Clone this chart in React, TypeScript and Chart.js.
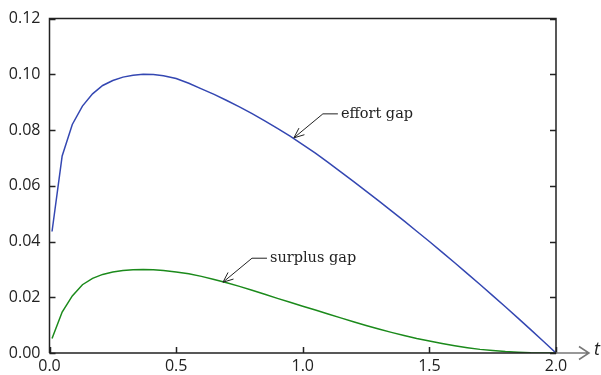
import React, { useEffect, useRef } from "react";
import { Chart, registerables } from "chart.js";

Chart.register(...registerables);

const tValues = [0.01, 0.05, 0.09, 0.13, 0.17, 0.21, 0.25, 0.29, 0.33, 0.37, 0.41, 0.45, 0.5, 0.55, 0.6, 0.65, 0.7, 0.75, 0.8, 0.85, 0.9, 0.95, 1.0, 1.05, 1.1, 1.15, 1.2, 1.25, 1.3, 1.35, 1.4, 1.45, 1.5, 1.55, 1.6, 1.65, 1.7, 1.75, 1.8, 1.85, 1.9, 1.95, 2.0];
const effortGap = [0.0436, 0.0707, 0.082, 0.0886, 0.093, 0.096, 0.0978, 0.099, 0.0997, 0.1, 0.0999, 0.0995, 0.0985, 0.0968, 0.0948, 0.0928, 0.0906, 0.0883, 0.0859, 0.0833, 0.0806, 0.0778, 0.0748, 0.0717, 0.0684, 0.065, 0.0616, 0.0581, 0.0546, 0.051, 0.0474, 0.0437, 0.04, 0.0362, 0.0324, 0.0285, 0.0246, 0.0206, 0.0166, 0.0125, 0.0084, 0.0042, 0.0];
const surplusGap = [0.0052, 0.0147, 0.0205, 0.0245, 0.0268, 0.0282, 0.0291, 0.0296, 0.0299, 0.03, 0.0299, 0.0296, 0.0291, 0.0284, 0.0275, 0.0264, 0.0252, 0.0239, 0.0225, 0.0211, 0.0196, 0.0182, 0.0168, 0.0154, 0.014, 0.0126, 0.0112, 0.0099, 0.0086, 0.0074, 0.0063, 0.0052, 0.0043, 0.0034, 0.0026, 0.0019, 0.0013, 0.0009, 0.0005, 0.0003, 0.0001, 0.00003, 0.0];
const xTicks = [0, 0.5, 1.0, 1.5, 2.0];
const yTicks = [0, 0.02, 0.04, 0.06, 0.08, 0.1, 0.12];
const annotations = [
  { text: "effort gap", t: 0.965, v: 0.0772, dx: 46, dy: -24 },
  { text: "surplus gap", t: 0.685, v: 0.0254, dx: 46, dy: -24 },
];

const overlay = {
  id: "overlay",
  afterDraw(chart: any) {
    const ctx = chart.ctx;
    const { left, right, top, bottom } = chart.chartArea;
    const xs = chart.scales.x;
    const ys = chart.scales.y;
    ctx.save();
    ctx.strokeStyle = "#222";
    ctx.lineWidth = 1.5;
    ctx.beginPath();
    yTicks.forEach((v) => {
      const y = Math.round(ys.getPixelForValue(v)) + 0.5;
      ctx.moveTo(left, y);
      ctx.lineTo(left + 6, y);
      ctx.moveTo(right, y);
      ctx.lineTo(right - 6, y);
    });
    xTicks.forEach((v) => {
      const x = Math.round(xs.getPixelForValue(v)) + 0.5;
      ctx.moveTo(x, bottom);
      ctx.lineTo(x, bottom - 6);
    });
    ctx.stroke();
    ctx.beginPath();
    ctx.moveTo(left, bottom);
    ctx.lineTo(left, top);
    ctx.lineTo(right, top);
    ctx.lineTo(right, bottom);
    ctx.lineTo(left, bottom);
    ctx.stroke();
    ctx.strokeStyle = "#777";
    ctx.beginPath();
    ctx.moveTo(right, bottom);
    ctx.lineTo(right + 33, bottom);
    ctx.moveTo(right + 23, bottom - 6.5);
    ctx.lineTo(right + 33, bottom);
    ctx.lineTo(right + 23, bottom + 6.5);
    ctx.stroke();
    ctx.fillStyle = "#222";
    ctx.font = "italic 18px 'Open Sans'";
    ctx.textAlign = "left";
    ctx.textBaseline = "middle";
    ctx.fillText("t", right + 38, bottom - 3);
    ctx.strokeStyle = "#222";
    ctx.lineWidth = 1;
    ctx.font = "14.5px 'DejaVu Serif'";
    annotations.forEach((a) => {
      const px = xs.getPixelForValue(a.t);
      const py = ys.getPixelForValue(a.v);
      const hx = px + a.dx - 2;
      const hy = py + a.dy;
      const kx = hx - 15;
      ctx.beginPath();
      ctx.moveTo(hx, hy);
      ctx.lineTo(kx, hy);
      ctx.lineTo(px, py);
      ctx.stroke();
      const ang = Math.atan2(hy - py, kx - px);
      const L = 11;
      ctx.beginPath();
      ctx.moveTo(px + L * Math.cos(ang - 0.4), py + L * Math.sin(ang - 0.4));
      ctx.lineTo(px, py);
      ctx.lineTo(px + L * Math.cos(ang + 0.4), py + L * Math.sin(ang + 0.4));
      ctx.stroke();
      ctx.fillText(a.text, hx + 3, hy);
    });
    ctx.restore();
  },
};

export default function App() {
  const ref = useRef<HTMLCanvasElement>(null);
  useEffect(() => {
    if (!ref.current) return;
    const chart = new Chart(ref.current, {
      type: "line",
      data: {
        datasets: [
          {
            label: "effort gap",
            data: tValues.map((t, i) => ({ x: t, y: effortGap[i] })),
            borderColor: "#3447b2",
            borderWidth: 1.5,
            pointRadius: 0,
            tension: 0,
          },
          {
            label: "surplus gap",
            data: tValues.map((t, i) => ({ x: t, y: surplusGap[i] })),
            borderColor: "#1b8a1b",
            borderWidth: 1.5,
            pointRadius: 0,
            tension: 0,
          },
        ],
      },
      options: {
        animation: false,
        responsive: false,
        layout: { padding: { top: 16, right: 45, left: 0, bottom: 0 } },
        plugins: { legend: { display: false }, tooltip: { enabled: false } },
        scales: {
          x: {
            type: "linear",
            min: 0,
            max: 2,
            afterFit: (s: any) => { s.height = 22; },
            afterBuildTicks: (s: any) => { s.ticks = xTicks.map((v) => ({ value: v })); },
            grid: { display: false, drawTicks: false },
            border: { display: false },
            ticks: {
              padding: 4,
              color: "#222",
              font: { family: "'Open Sans'", size: 16 },
              callback: (v: any) => Number(v).toFixed(1),
            },
          },
          y: {
            type: "linear",
            min: 0,
            max: 0.12,
            afterFit: (s: any) => { s.width = 49.5; },
            afterBuildTicks: (s: any) => { s.ticks = yTicks.map((v) => ({ value: v })); },
            grid: { display: false, drawTicks: false },
            border: { display: false },
            ticks: {
              padding: 9,
              color: "#222",
              font: { family: "'Open Sans'", size: 16 },
              callback: (v: any) => Number(v).toFixed(2),
            },
          },
        },
      },
      plugins: [overlay],
    });
    return () => chart.destroy();
  }, []);
  return (
    <div style={{ position: "absolute", left: 0, top: 0, width: 601, height: 375 }}>
      <canvas ref={ref} width={601} height={375} style={{ width: 601, height: 375 }} />
    </div>
  );
}
